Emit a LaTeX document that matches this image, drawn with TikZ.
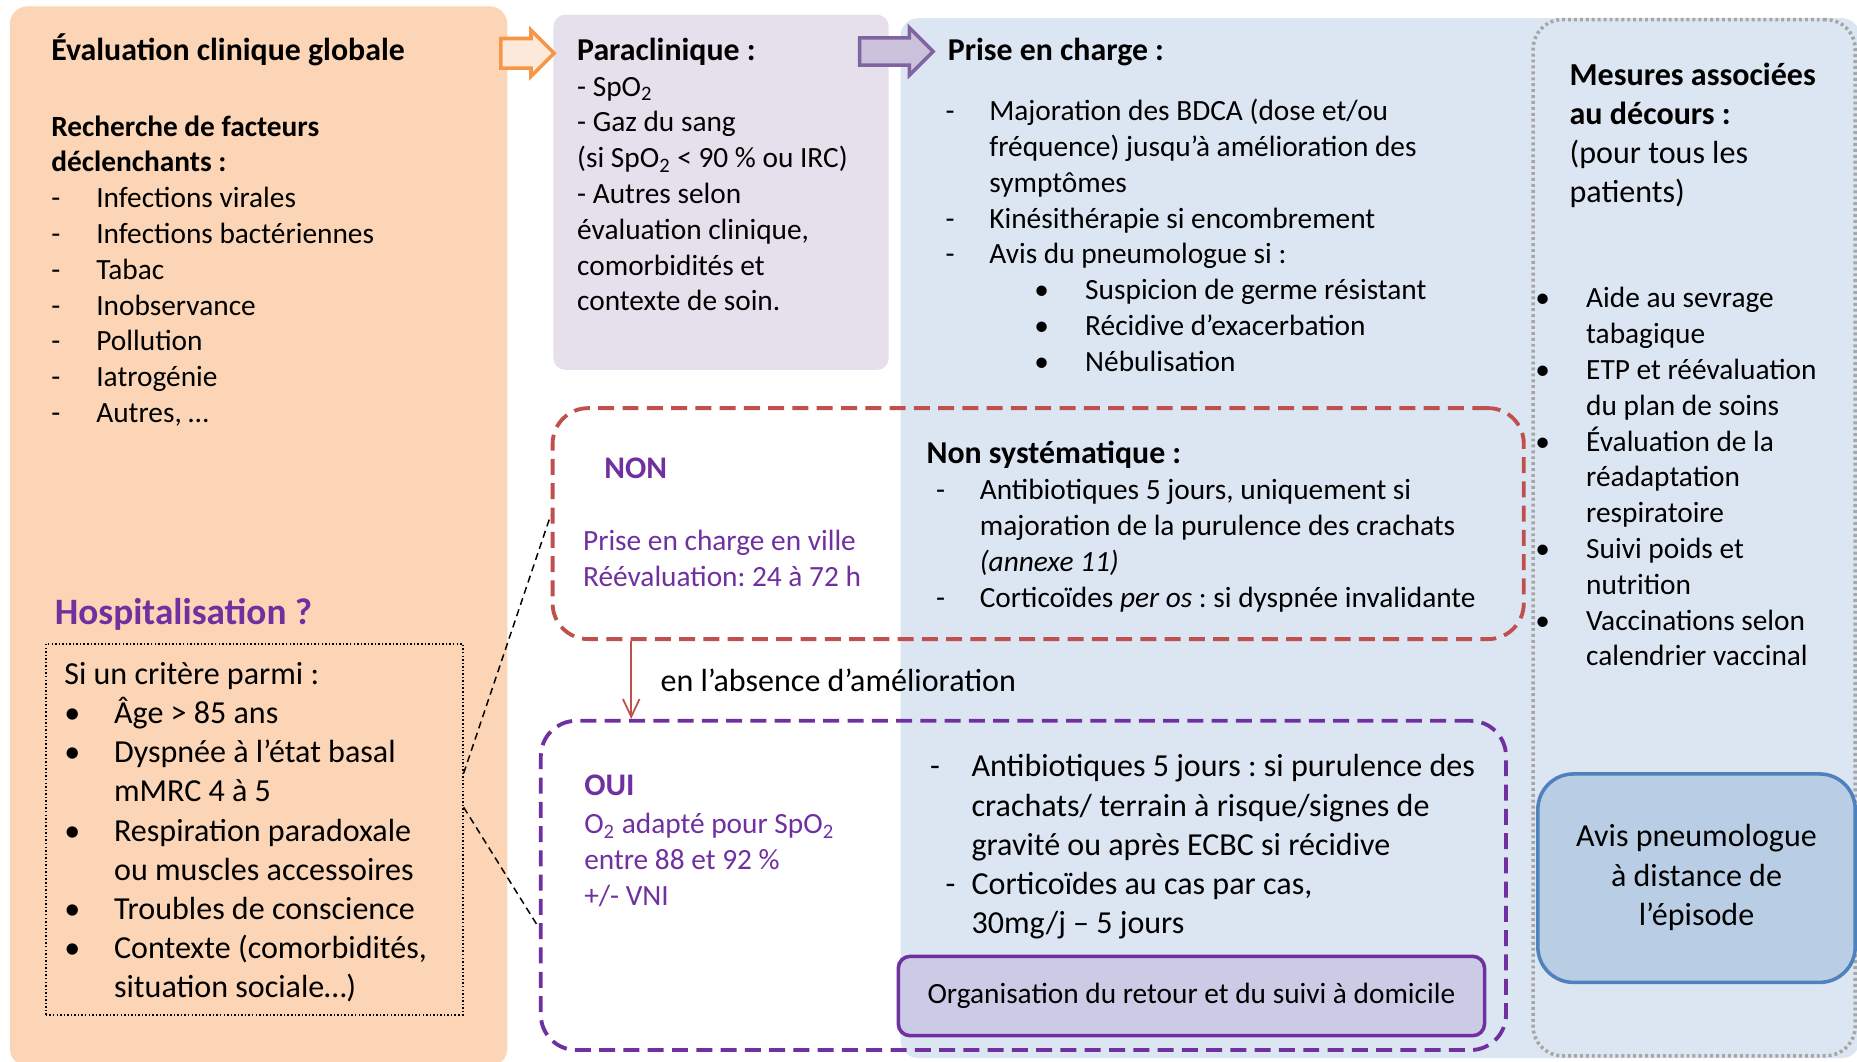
\documentclass[tikz,border=0pt]{standalone}
\usepackage{fontspec}
\setmainfont{Carlito}
\usepackage{tikz}
\usetikzlibrary{positioning,shapes.arrows,arrows.meta}
\frenchspacing

\definecolor{evalorange}{HTML}{FBD5B5}
\definecolor{arroworange}{HTML}{F79646}
\definecolor{arrowpeach}{HTML}{FDE9D9}
\definecolor{paralilac}{HTML}{E5E0EC}
\definecolor{priseblue}{HTML}{DCE6F2}
\definecolor{dotgray}{HTML}{A6A6A6}
\definecolor{nonred}{HTML}{C0504D}
\definecolor{ouipurple}{HTML}{7030A0}
\definecolor{arrowpurple}{HTML}{8064A2}
\definecolor{arrowlilac}{HTML}{CCC1DA}
\definecolor{orgalilac}{HTML}{CCCBE6}
\definecolor{avisblue}{HTML}{B9CDE5}
\definecolor{avisborder}{HTML}{4F81BD}

\newcommand{\bodysize}{\fontsize{14.1}{17.2}\selectfont}
\newcommand{\bigsize}{\fontsize{15.4}{18.8}\selectfont}
\newcommand{\headsize}{\fontsize{15.3}{17.2}\selectfont\bfseries}

\begin{document}
\begin{tikzpicture}[x=0.2mm,y=-0.2mm,
    txt/.style={anchor=base west,inner sep=0,yshift=-0.4mm,font=\bodysize},
    bigtxt/.style={anchor=base west,inner sep=0,yshift=-0.4mm,font=\bigsize},
    panel/.style 2 args={anchor=north west,inner sep=0,
      minimum width=#1*0.2mm,minimum height=#2*0.2mm},
    dashbox/.style={draw=#1,line width=0.65mm,
      dash pattern=on 2.7mm off 1.4mm,rounded corners=6mm}]
    \useasboundingbox (0,0) rectangle (1568,896);
    \clip (0,0) rectangle (1568,896);
    \fill[white] (0,0) rectangle (1568,896);

    % BACKGROUND PANELS
    \node[panel={420}{895},fill=evalorange,rounded corners=3mm] (EVAL) at (8,5) {};
    \node[panel={810}{878},fill=priseblue,rounded corners=3mm] (PRISE) at (760,15) {};
    \node[panel={283}{300},fill=paralilac,rounded corners=2mm] (PARA) at (467,12) {};
    \node[panel={272}{875},draw=dotgray,line width=0.6mm,
      dash pattern=on 0.5mm off 0.5mm,rounded corners=5mm] (MESURES) at (1293,15) {};

    % DECISION BOXES
    \node[panel={820}{195},dashbox=nonred] (NON_BOX) at (465,343) {};
    \node[panel={815}{278},dashbox=ouipurple] (OUI_BOX) at (455,607) {};
    \node[panel={495}{67},fill=orgalilac,draw=ouipurple,line width=0.6mm,
      rounded corners=2mm,font=\bodysize] (ORGA) at (757,806)
    {Organisation du retour et du suivi à domicile};
    \node[panel={268}{176},fill=avisblue,draw=avisborder,line width=0.6mm,
      rounded corners=6mm,font=\bigsize] (AVIS) at (1297,652)
    {
      \begin{tabular}{c}
        Avis pneumologue \\
        à distance de    \\
        l’épisode
      \end{tabular}
    };
    \node[panel={352}{313},draw,line width=0.3mm,
      dash pattern=on 0.25mm off 0.35mm] (CRIT) at (38,543) {};

    % BLOCK ARROWS
    \node[single arrow,draw=arroworange,fill=arrowpeach,line width=0.6mm,
      inner xsep=0,inner ysep=2.2mm,minimum height=9mm,
    single arrow head extend=1.4mm,anchor=tip] (ARROW_PARA) at (470,45) {};
    \node[single arrow,draw=arrowpurple,fill=arrowlilac,line width=0.6mm,
      inner xsep=0,inner ysep=2mm,minimum height=12.4mm,
    single arrow head extend=1.7mm,anchor=tip] (ARROW_PRISE) at (790,43.5) {};

    % EVALUATION
    \node[txt,font=\headsize] (EVAL_TITLE) at (43,49) {Évaluation clinique globale};
    \node[txt] (EVAL_LIST) at (43,113)
    {
      \begin{tabular}[t]{@{}p{7.6mm}@{}l@{}}
        \multicolumn{2}{@{}l@{}}{\bfseries Recherche de facteurs} \\
        \multicolumn{2}{@{}l@{}}{\bfseries déclenchants :}        \\
        - & Infections virales      \\
        - & Infections bactériennes \\
        - & Tabac                   \\
        - & Inobservance            \\
        - & Pollution               \\
        - & Iatrogénie              \\
        - & Autres, …
      \end{tabular}
    };

    % HOSPITALISATION
    \node[txt,font=\fontsize{17.9}{21}\selectfont\bfseries,text=ouipurple] (HOSPI) at (46,525)
    {Hospitalisation ?};
    \node[bigtxt] (CRIT_LIST) at (54,576)
    {
      \begin{tabular}[t]{@{}p{8.4mm}@{}l@{}}
        \multicolumn{2}{@{}l@{}}{Si un critère parmi :} \\
        • & Âge > 85 ans               \\
        • & Dyspnée à l’état basal     \\
          & mMRC 4 à 5                 \\
        • & Respiration paradoxale     \\
          & ou muscles accessoires     \\
        • & Troubles de conscience     \\
        • & Contexte (comorbidités,    \\
          & situation sociale…)
      \end{tabular}
    };

    % PARACLINIQUE
    \node[txt] (PARA_TEXT) at (487,49)
    {
      \begin{tabular}[t]{@{}l@{}}
        {\headsize Paraclinique :}                        \\
        - SpO\textsubscript{2}                            \\
        - Gaz du sang                                     \\
        (si SpO\textsubscript{2} < 90 \% ou IRC)          \\
        - Autres selon                                    \\
        évaluation clinique,                              \\
        comorbidités et                                   \\
        contexte de soin.
      \end{tabular}
    };

    % PRISE EN CHARGE
    \node[txt,font=\headsize] (PRISE_TITLE) at (800,49) {Prise en charge :};
    \node[txt] (PRISE_LIST) at (798,100)
    {
      \begin{tabular}[t]{@{}p{7.4mm}@{}l@{}}
        - & Majoration des BDCA (dose et/ou      \\
          & fréquence) jusqu’à amélioration des  \\
          & symptômes                            \\
        - & Kinésithérapie si encombrement       \\
        - & Avis du pneumologue si :
      \end{tabular}
    };
    \node[txt] (PRISE_AVIS) at (879,251)
    {
      \begin{tabular}[t]{@{}p{7.4mm}@{}l@{}}
        \hspace*{-1.2mm}• & Suspicion de germe résistant \\
        \hspace*{-1.2mm}• & Récidive d’exacerbation      \\
        \hspace*{-1.2mm}• & Nébulisation
      \end{tabular}
    };

    % MESURES ASSOCIEES
    \node[bigtxt] (MESURES_TITLE) at (1325,70)
    {
      \begin{tabular}[t]{@{}l@{}}
        \textbf{Mesures associées} \\
        \textbf{au décours :}      \\
        (pour tous les             \\
        patients)
      \end{tabular}
    };
    \node[txt] (MESURES_LIST) at (1302,258)
    {
      \begin{tabular}[t]{@{}p{7.4mm}@{}l@{}}
        \hspace*{-1.2mm}• & Aide au sevrage     \\
                          & tabagique           \\
        \hspace*{-1.2mm}• & ETP et réévaluation \\
                          & du plan de soins    \\
        \hspace*{-1.2mm}• & Évaluation de la    \\
                          & réadaptation        \\
                          & respiratoire        \\
        \hspace*{-1.2mm}• & Suivi poids et      \\
                          & nutrition           \\
        \hspace*{-1.2mm}• & Vaccinations selon  \\
                          & calendrier vaccinal
      \end{tabular}
    };

    % NON
    \node[txt,font=\fontsize{15.1}{18}\selectfont\bfseries,text=ouipurple] (NON_TITLE) at (510,402) {NON};
    \node[txt,text=ouipurple] (NON_TEXT) at (492,463)
    {
      \begin{tabular}[t]{@{}l@{}}
        Prise en charge en ville \\
        Réévaluation: 24 à 72 h
      \end{tabular}
    };
    \node[txt,font=\headsize] (NON_SYST) at (782,389) {Non systématique :};
    \node[txt] (NON_LIST) at (790,420)
    {
      \begin{tabular}[t]{@{}p{7.4mm}@{}l@{}}
        - & Antibiotiques 5 jours, uniquement si                     \\
          & majoration de la purulence des crachats                  \\
          & \textit{(annexe 11)}                                      \\
        - & Corticoïdes \textit{per os} : si dyspnée invalidante
      \end{tabular}
    };

    % OUI
    \node[txt,font=\fontsize{15.1}{18}\selectfont\bfseries,text=ouipurple] (OUI_TITLE) at (493,670) {OUI};
    \node[txt,text=ouipurple] (OUI_TEXT) at (493,702)
    {
      \begin{tabular}[t]{@{}l@{}}
        O\textsubscript{2} adapté pour SpO\textsubscript{2} \\
        entre 88 et 92 \%                                    \\
        +/- VNI
      \end{tabular}
    };
    \node[bigtxt] (OUI_LIST) at (785,654)
    {
      \begin{tabular}[t]{@{}p{7mm}@{}l@{}}
        -                & Antibiotiques 5 jours : si purulence des \\
                         & crachats/ terrain à risque/signes de     \\
                         & gravité ou après ECBC si récidive        \\
        \hspace*{2.6mm}- & Corticoïdes au cas par cas,              \\
                         & 30mg/j – 5 jours
      \end{tabular}
    };

    % LINES
    \path (NON_BOX.south west) ++(68,0) coordinate (NON_EXIT);
    \draw[-{Straight Barb[length=3mm,width=2.8mm]},nonred,line width=0.3mm]
    (NON_EXIT) -- node[midway,right=4.8mm,inner sep=0,text=black,font=\bigsize]
    {en l’absence d’amélioration} (NON_EXIT |- OUI_BOX.north);
    \begin{scope}[line width=0.25mm,dash pattern=on 1.2mm off 0.8mm]
      \draw (CRIT.15) -- (NON_BOX.179);
      \draw (CRIT.6) -- (OUI_BOX.185);
    \end{scope}
\end{tikzpicture}
\end{document}
